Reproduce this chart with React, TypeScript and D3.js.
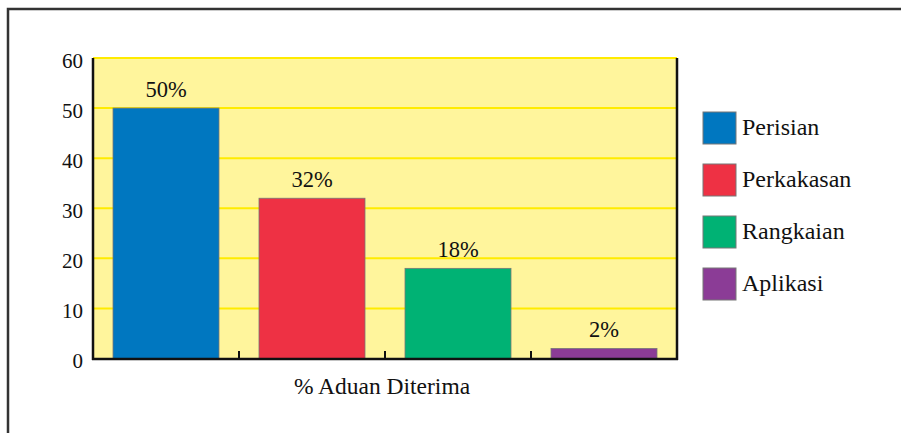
import { useEffect, useRef } from 'react';
import * as d3 from 'd3';

const categories = ['Perisian', 'Perkakasan', 'Rangkaian', 'Aplikasi'];
const values = [50, 32, 18, 2];
const colors = ['#0077C0', '#EE3144', '#00B274', '#8B3C96'];
const yTicks = [0, 10, 20, 30, 40, 50, 60];
const xTitle = '% Aduan Diterima';

export default function App() {
  const svgRef = useRef<SVGSVGElement>(null);
  const width = 901;
  const height = 433;
  const margin = { top: 58, right: 224, bottom: 74, left: 93 };

  useEffect(() => {
    if (!svgRef.current) return;
    const svg = d3.select(svgRef.current);
    svg.selectAll('*').remove();

    const font = 'Liberation Serif, Tinos, DejaVu Serif, serif';

    // outer frame
    svg.append('rect')
      .attr('x', 8)
      .attr('y', 9)
      .attr('width', 1200)
      .attr('height', 1200)
      .attr('fill', 'none')
      .attr('stroke', '#333')
      .attr('stroke-width', 2.5);

    const x0 = margin.left;
    const x1 = width - margin.right;
    const yBottom = height - margin.bottom;

    const xScale = d3.scaleBand<string>()
      .domain(categories)
      .range([x0, x1])
      .paddingInner(0.274)
      .paddingOuter(0.137);

    const yScale = d3.scaleLinear()
      .domain([0, 60])
      .range([yBottom - 0.5, margin.top]);

    // plot background
    svg.append('rect')
      .attr('x', x0)
      .attr('y', margin.top)
      .attr('width', x1 - x0)
      .attr('height', yBottom - margin.top)
      .attr('fill', '#FFF59C');

    // gridlines
    svg.append('g')
      .selectAll('line')
      .data(yTicks.filter(d => d > 0))
      .join('line')
      .attr('x1', x0)
      .attr('x2', x1)
      .attr('y1', d => yScale(d))
      .attr('y2', d => yScale(d))
      .attr('stroke', '#FFEB00')
      .attr('stroke-width', 2);

    // bars
    svg.append('g')
      .selectAll('rect')
      .data(values)
      .join('rect')
      .attr('x', (_, i) => xScale(categories[i]) ?? 0)
      .attr('y', d => yScale(d))
      .attr('width', xScale.bandwidth())
      .attr('height', d => yScale(0) - yScale(d))
      .attr('fill', (_, i) => colors[i])
      .attr('stroke', '#777')
      .attr('stroke-width', 0.8);

    const g = svg.append('g')
      .attr('font-family', font)
      .attr('fill', '#111');

    // value labels
    g.append('g')
      .selectAll('text')
      .data(values)
      .join('text')
      .attr('x', (_, i) => (xScale(categories[i]) ?? 0) + xScale.bandwidth() / 2)
      .attr('y', d => yScale(d) - 11)
      .attr('text-anchor', 'middle')
      .attr('font-size', 22.5)
      .text(d => `${d}%`);

    // axes lines
    svg.append('line')
      .attr('x1', x0).attr('x2', x0)
      .attr('y1', margin.top).attr('y2', yBottom + 1)
      .attr('stroke', '#111').attr('stroke-width', 2.5);
    svg.append('line')
      .attr('x1', x1).attr('x2', x1)
      .attr('y1', margin.top).attr('y2', yBottom + 1)
      .attr('stroke', '#111').attr('stroke-width', 2.5);
    svg.append('line')
      .attr('x1', x0 - 1).attr('x2', x1 + 1)
      .attr('y1', yBottom).attr('y2', yBottom)
      .attr('stroke', '#111').attr('stroke-width', 2.5);

    // category boundary ticks
    const step = xScale.step();
    svg.append('g')
      .selectAll('line')
      .data(categories.slice(1))
      .join('line')
      .attr('x1', d => (xScale(d) ?? 0) - step * xScale.paddingInner() / 2)
      .attr('x2', d => (xScale(d) ?? 0) - step * xScale.paddingInner() / 2)
      .attr('y1', yBottom)
      .attr('y2', yBottom - 8)
      .attr('stroke', '#111')
      .attr('stroke-width', 2);

    // y tick labels
    g.append('g')
      .selectAll('text')
      .data(yTicks)
      .join('text')
      .attr('x', x0 - 10)
      .attr('y', d => yScale(d) + 9.5)
      .attr('text-anchor', 'end')
      .attr('font-size', 21)
      .text(d => d);

    // x title
    g.append('text')
      .attr('x', (x0 + x1) / 2 - 3)
      .attr('y', yBottom + 35)
      .attr('text-anchor', 'middle')
      .attr('font-size', 23.5)
      .text(xTitle);

    // legend
    const items = svg.append('g')
      .selectAll('g')
      .data(categories)
      .join('g')
      .attr('transform', (_, i) => `translate(703,${112 + i * 52})`);
    items.append('rect')
      .attr('width', 33)
      .attr('height', 32)
      .attr('fill', (_, i) => colors[i])
      .attr('stroke', '#777')
      .attr('stroke-width', 1);
    items.append('text')
      .attr('x', 39)
      .attr('y', 23)
      .attr('font-family', font)
      .attr('font-size', 24)
      .attr('fill', '#111')
      .text(d => d);
  }, []);

  return (
    <svg
      ref={svgRef}
      width={width}
      height={height}
      style={{ position: 'absolute', left: 0, top: 0, display: 'block' }}
    />
  );
}
